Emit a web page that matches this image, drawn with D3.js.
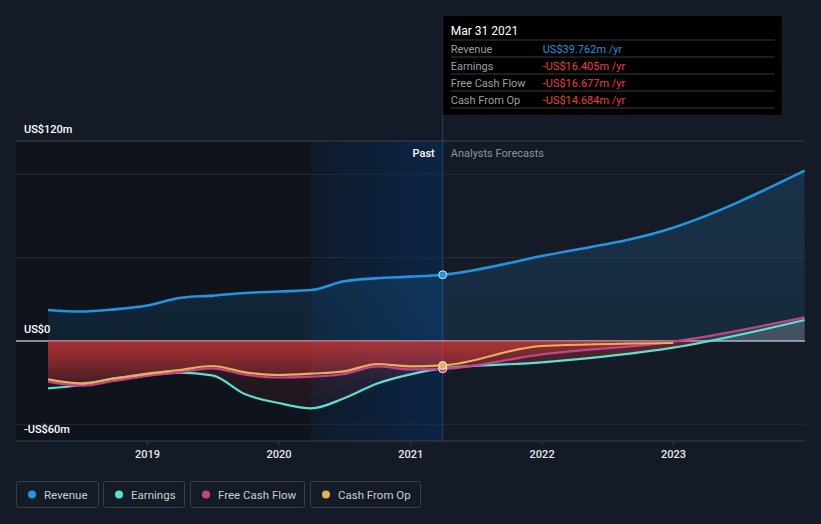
<!DOCTYPE html>
<html>
<head>
<meta charset="utf-8">
<script src="https://cdn.jsdelivr.net/npm/d3@7/dist/d3.min.js"></script>
<style>
  html, body { margin: 0; padding: 0; background: #151b26; }
  svg { display: block; font-family: Roboto, "Noto Sans", sans-serif; }
</style>
</head>
<body>
<svg id="chart" width="821" height="524"></svg>
<script>
// quarterly history, then analyst forecasts (US$ m)
const pastDates = ['2018-03-31', '2018-06-30', '2018-09-30', '2018-12-31', '2019-03-31', '2019-06-30',
                   '2019-09-30', '2019-12-31', '2020-03-31', '2020-06-30', '2020-09-30', '2020-12-31', '2021-03-31'];
const forecastDates = ['2021-12-31', '2022-12-31', '2023-12-31'];

const revenuePast  = [18.6, 17.7, 19.0, 21.3, 25.8, 27.2, 28.8, 29.7, 30.6, 35.8, 37.7, 38.6, 39.762];
const earningsPast = [-28.4, -26.4, -22.4, -20.3, -19.0, -20.6, -32.0, -37.2, -40.4, -34.4, -25.5, -20.0, -16.405];
const fcfPast      = [-24.4, -26.8, -24.0, -21.0, -18.8, -16.4, -20.2, -21.9, -21.4, -19.8, -15.2, -17.0, -16.677];
const cfoPast      = [-23.0, -25.4, -22.6, -19.6, -17.4, -15.0, -18.8, -20.4, -19.6, -18.2, -13.8, -15.2, -14.684];

const revenueFcst  = [51.0, 68.0, 102.2];
const earningsFcst = [-12.8, -4.0, 12.6];
const fcfFcst      = [-8.0, -0.4, 14.2];
const cfoFcst      = [-3.0, -1.2];

const yTicks = [120, 0, -60];
const yTickLabels = ['US$120m', 'US$0', '-US$60m'];
const gridValues = [100, 50, -50];
const xTickYears = [2019, 2020, 2021, 2022, 2023];

const tipDate = 'Mar 31 2021';
const tipRows = [
    {label: 'Revenue', value: 'US$39.762m', color: '#2394df'},
    {label: 'Earnings', value: '-US$16.405m', color: '#e8403f'},
    {label: 'Free Cash Flow', value: '-US$16.677m', color: '#e8403f'},
    {label: 'Cash From Op', value: '-US$14.684m', color: '#e8403f'}
];

const parse = d3.timeParse('%Y-%m-%d');

const seriesList = [
    {name: 'Revenue', color: '#2394df', past: revenuePast, fcst: revenueFcst, width: 2.6},
    {name: 'Earnings', color: '#5de0cf', past: earningsPast, fcst: earningsFcst, width: 2.2},
    {name: 'Free Cash Flow', color: '#c4448a', past: fcfPast, fcst: fcfFcst, width: 2.2},
    {name: 'Cash From Op', color: '#e9ad5b', past: cfoPast, fcst: cfoFcst, width: 2.2}
];
seriesList.forEach(s => {
    s.points = pastDates.map((d, i) => ({date: parse(d), v: s.past[i]}))
        .concat(s.fcst.map((v, i) => ({date: parse(forecastDates[i]), v: v})));
});

let svg = d3.select('#chart');
let pL = 16, pR = 805, pT = 141, pB = 441;

let x = d3.scaleTime()
    .domain([new Date(2018, 0, 1), new Date(2024, 0, 1)])
    .range([pL, pR]);
let y = d3.scaleLinear().domain([-60, 120]).range([pB, pT]);

let nowX = x(parse('2021-03-31')),
    yearAgoX = x(parse('2020-03-31'));

let defs = svg.append('defs');

let bandGrad = defs.append('linearGradient').attr('id', 'band').attr('x1', 0).attr('x2', 1).attr('y1', 0).attr('y2', 0);
bandGrad.append('stop').attr('offset', 0).attr('stop-color', '#0f1a2b');
bandGrad.append('stop').attr('offset', 1).attr('stop-color', '#0b2545');

let redGrad = defs.append('linearGradient').attr('id', 'red')
    .attr('gradientUnits', 'userSpaceOnUse')
    .attr('x1', 0).attr('x2', 0).attr('y1', y(0)).attr('y2', y(-60));
redGrad.append('stop').attr('offset', 0).attr('stop-color', '#e03a3a').attr('stop-opacity', 0.36);
redGrad.append('stop').attr('offset', 0.4).attr('stop-color', '#e03a3a').attr('stop-opacity', 0.1);
redGrad.append('stop').attr('offset', 1).attr('stop-color', '#e03a3a').attr('stop-opacity', 0.03);

let blueGrad = defs.append('linearGradient').attr('id', 'blue')
    .attr('gradientUnits', 'userSpaceOnUse')
    .attr('x1', 0).attr('x2', 0).attr('y1', y(120)).attr('y2', y(0));
blueGrad.append('stop').attr('offset', 0).attr('stop-color', '#2394df').attr('stop-opacity', 0.2);
blueGrad.append('stop').attr('offset', 1).attr('stop-color', '#2394df').attr('stop-opacity', 0.12);

defs.append('clipPath').attr('id', 'neg').append('rect')
    .attr('x', pL).attr('y', y(0)).attr('width', pR - pL).attr('height', pB - y(0));
defs.append('clipPath').attr('id', 'pos').append('rect')
    .attr('x', pL).attr('y', pT).attr('width', pR - pL).attr('height', y(0) - pT);

// past shading
svg.append('rect').attr('x', pL).attr('y', pT).attr('width', yearAgoX - pL).attr('height', pB - pT)
    .attr('fill', '#000').attr('opacity', 0.25);
svg.append('rect').attr('x', yearAgoX).attr('y', pT).attr('width', nowX - yearAgoX).attr('height', pB - pT)
    .attr('fill', 'url(#band)');

// grid
svg.selectAll('.grid').data(gridValues).enter().append('line')
    .attr('x1', pL).attr('x2', pR)
    .attr('y1', d => y(d)).attr('y2', d => y(d))
    .attr('stroke', '#262c36').attr('stroke-width', 1);
svg.append('line').attr('x1', pL).attr('x2', pR).attr('y1', y(120)).attr('y2', y(120))
    .attr('stroke', '#3a404a');

// vertical "now" line
svg.append('line').attr('x1', nowX).attr('x2', nowX).attr('y1', 16).attr('y2', pB)
    .attr('stroke', '#24456e').attr('stroke-width', 1);

// zero line
svg.append('line').attr('x1', pL).attr('x2', pR).attr('y1', y(0)).attr('y2', y(0))
    .attr('stroke', '#ffffff').attr('stroke-width', 1.2);

let curve = d3.curveMonotoneX;
let area = d3.area().curve(curve).x(d => x(d.date)).y0(y(0)).y1(d => y(d.v));
let line = d3.line().curve(curve).x(d => x(d.date)).y(d => y(d.v));

// areas
svg.append('path').datum(seriesList[0].points).attr('d', area).attr('fill', 'url(#blue)');
seriesList.slice(1).forEach(s => {
    svg.append('path').datum(s.points).attr('d', area)
        .attr('clip-path', 'url(#neg)').attr('fill', 'url(#red)');
    svg.append('path').datum(s.points).attr('d', area)
        .attr('clip-path', 'url(#pos)').attr('fill', '#ffffff').attr('opacity', 0.1);
});

// lines, cash from op ends up on top
seriesList.forEach(s => {
    svg.append('path').datum(s.points).attr('d', line)
        .attr('fill', 'none').attr('stroke', s.color).attr('stroke-width', s.width);
});

// markers at current date
seriesList.forEach(s => {
    svg.append('circle').attr('cx', nowX).attr('cy', y(s.past[s.past.length - 1]))
        .attr('r', 4).attr('fill', s.color)
        .attr('stroke', '#ffffff').attr('stroke-opacity', 0.8).attr('stroke-width', 1);
});

// x axis
svg.append('line').attr('x1', pL).attr('x2', pR).attr('y1', pB).attr('y2', pB)
    .attr('stroke', '#3a404a');
let xg = svg.selectAll('.xtick').data(xTickYears).enter().append('g')
    .attr('transform', d => 'translate(' + x(new Date(d, 0, 1)) + ',' + pB + ')');
xg.append('line').attr('y1', 0).attr('y2', 4).attr('stroke', '#3a404a');
xg.append('text').attr('y', 17).attr('text-anchor', 'middle')
    .attr('fill', '#e6e8ea').attr('font-size', 11).attr('font-weight', 500)
    .text(d => d);

// y labels
svg.selectAll('.ylab').data(yTicks).enter().append('text')
    .attr('x', 24).attr('y', d => y(d) - 8)
    .attr('fill', '#ffffff').attr('font-size', 11).attr('font-weight', 500)
    .text((d, i) => yTickLabels[i]);

// past / forecast labels
svg.append('text').attr('x', nowX - 8).attr('y', 157).attr('text-anchor', 'end')
    .attr('fill', '#ffffff').attr('font-size', 11).attr('font-weight', 500).text('Past');
svg.append('text').attr('x', nowX + 8).attr('y', 157)
    .attr('fill', '#8d939b').attr('font-size', 11).text('Analysts Forecasts');

// tooltip
let tip = svg.append('g').attr('transform', 'translate(' + nowX + ',16)');
tip.append('rect').attr('width', 339).attr('height', 99).attr('fill', '#000000');
tip.append('text').attr('x', 8).attr('y', 19).attr('fill', '#ffffff')
    .attr('font-size', 12).text(tipDate);
let rows = tip.selectAll('.row').data(tipRows).enter().append('g')
    .attr('transform', (d, i) => 'translate(0,' + (24 + i * 17) + ')');
rows.append('line').attr('x1', 8).attr('x2', 332).attr('y1', 0).attr('y2', 0)
    .attr('stroke', '#3a3a3a');
rows.append('text').attr('x', 8).attr('y', 12.5).attr('fill', '#9a9fa5').attr('font-size', 11)
    .text(d => d.label);
rows.append('text').attr('x', 100).attr('y', 12.5).attr('font-size', 11)
    .attr('fill', d => d.color).text(d => d.value + ' /yr');
tip.append('line').attr('x1', 8).attr('x2', 332).attr('y1', 92).attr('y2', 92).attr('stroke', '#3a3a3a');

// legend
let legendX = [16, 103, 190, 310], legendW = [82, 81, 114, 110];
let lg = svg.selectAll('.legend').data(seriesList).enter().append('g')
    .attr('transform', (d, i) => 'translate(' + legendX[i] + ',481)');
lg.append('rect').attr('x', 0.5).attr('y', 0.5).attr('width', (d, i) => legendW[i]).attr('height', 26)
    .attr('rx', 2).attr('fill', 'none').attr('stroke', '#3a3f48');
lg.append('circle').attr('cx', 16).attr('cy', 13.5).attr('r', 4).attr('fill', d => d.color);
lg.append('text').attr('x', 28).attr('y', 17.5).attr('fill', '#c9cdd2').attr('font-size', 11.5)
    .text(d => d.name);
</script>
</body>
</html>
